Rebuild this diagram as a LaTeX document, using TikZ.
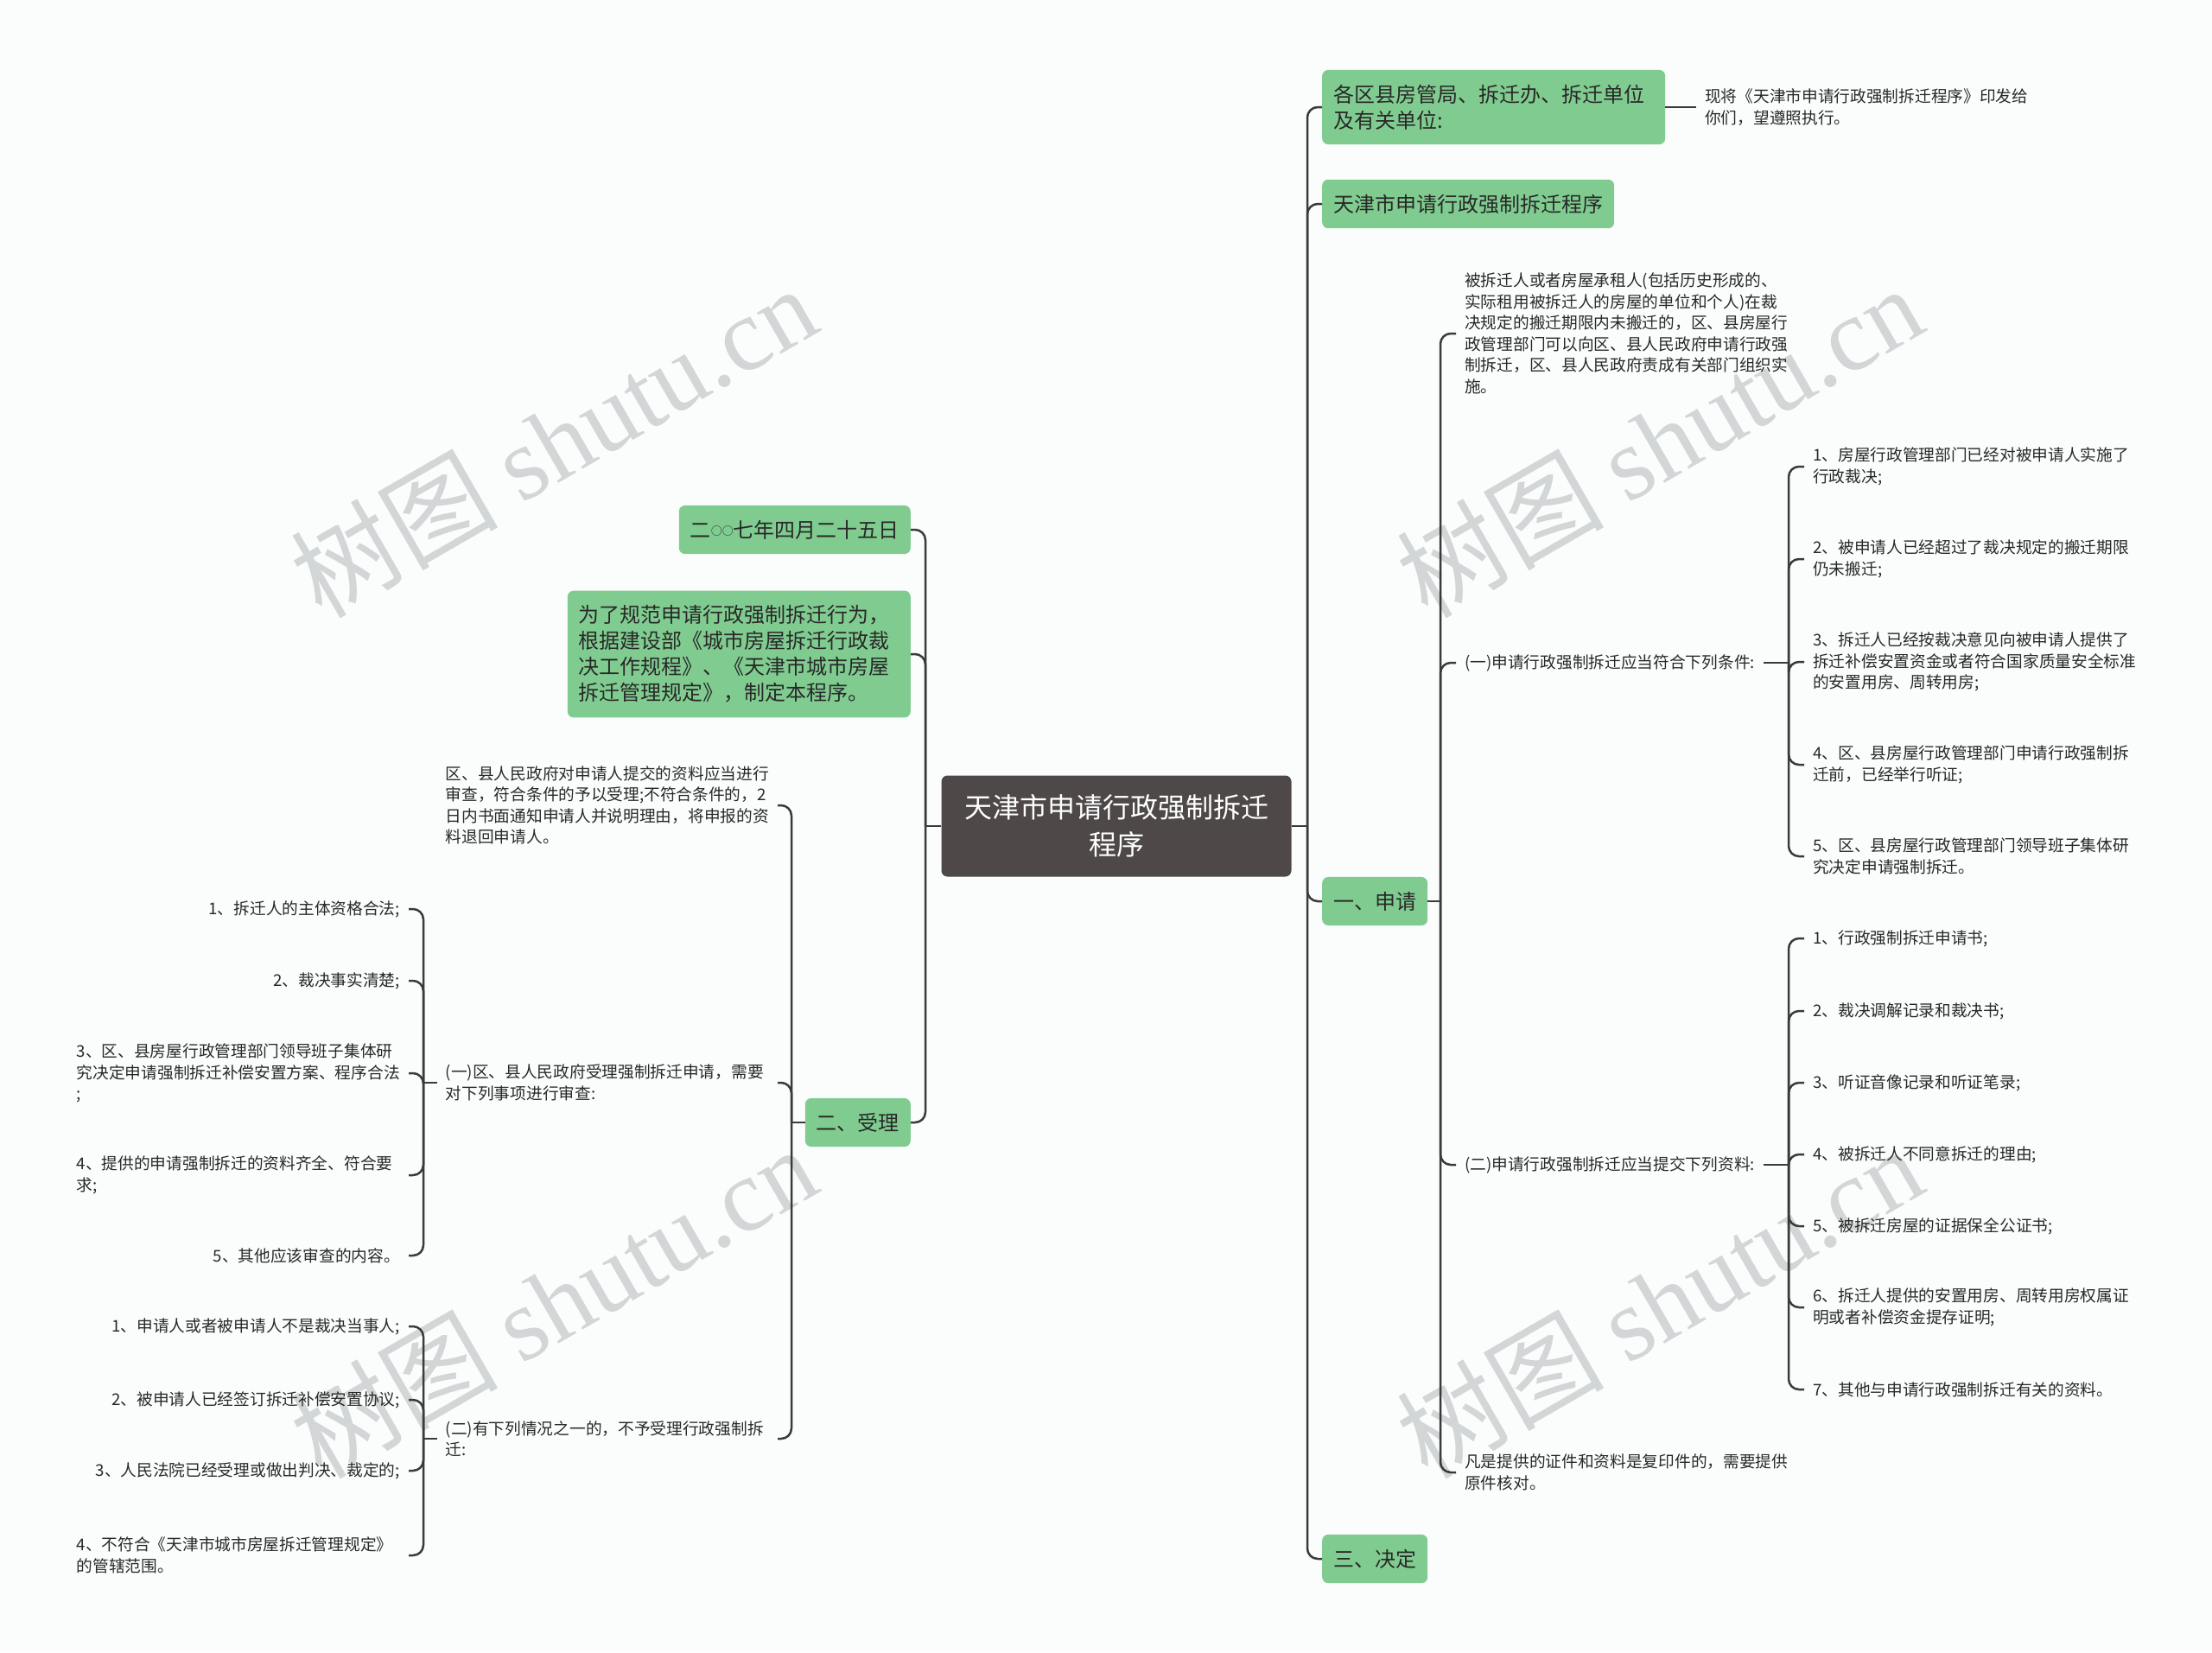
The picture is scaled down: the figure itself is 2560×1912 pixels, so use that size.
\documentclass[tikz,border=0pt]{standalone}
\usepackage{fontspec}
\setmainfont{Noto Sans CJK SC}
\newfontfamily\wmfont{Liberation Serif}

\definecolor{bgcol}{RGB}{251,253,253}
\definecolor{boxgreen}{RGB}{128,204,144}
\definecolor{rootgray}{RGB}{78,72,72}
\definecolor{linecol}{RGB}{58,58,58}
\definecolor{wmgray}{RGB}{210,214,214}
\definecolor{txt}{RGB}{40,40,40}

\tikzset{
  root/.style={fill=rootgray, text=white, rounded corners=7pt, minimum width=405pt,
    minimum height=117pt, align=center, font=\fontsize{32}{43}\selectfont},
  topic/.style={fill=boxgreen, text=txt, rounded corners=7pt, inner xsep=13pt,
    inner ysep=17pt, align=left, font=\fontsize{24}{30}\selectfont},
  widetopic/.style={topic, text width=371pt},
  leaf/.style={text=txt, inner xsep=10pt, inner ysep=3pt, align=left,
    font=\fontsize{18.7}{24.5}\selectfont},
  wideleaf/.style={leaf, text width=374pt},
  conn/.style={draw=linecol, line width=2.5pt, rounded corners=12pt},
  wmark/.style={text=wmgray, rotate=30, font=\fontsize{120}{120}\selectfont},
}

\begin{document}
\begin{tikzpicture}[x=1pt,y=-1pt]
  \fill[bgcol] (0,0) rectangle (2560,1912);
  \useasboundingbox (0,0) rectangle (2560,1912);

  % watermarks
  \node[wmark] (wm1) at (640,510) {树图 {\wmfont shutu.cn}};
  \node[wmark] (wm2) at (1920,510) {树图 {\wmfont shutu.cn}};
  \node[wmark] (wm3) at (640,1506) {树图 {\wmfont shutu.cn}};
  \node[wmark] (wm4) at (1920,1506) {树图 {\wmfont shutu.cn}};

  \node[root] (root) at (1292,956) {天津市申请行政强制拆迁\\程序};

  % right side
  \coordinate (rt) at (1513,956);
  \node[widetopic, anchor=west] (notice) at (1530,124) {各区县房管局、拆迁办、拆迁单位\\及有关单位:};
  \node[leaf, anchor=west] (issue) at (1963,124) {现将《天津市申请行政强制拆迁程序》印发给\\你们，望遵照执行。};
  \node[topic, anchor=west] (title) at (1530,236) {天津市申请行政强制拆迁程序};
  \node[topic, anchor=west] (apply) at (1530,1043) {一、申请};
  \node[topic, anchor=west] (decide) at (1530,1804) {三、决定};

  \coordinate (ap) at (1667,1043);
  \node[leaf, anchor=west] (ap1) at (1685,386) {被拆迁人或者房屋承租人(包括历史形成的、\\实际租用被拆迁人的房屋的单位和个人)在裁\\决规定的搬迁期限内未搬迁的，区、县房屋行\\政管理部门可以向区、县人民政府申请行政强\\制拆迁，区、县人民政府责成有关部门组织实\\施。};
  \node[leaf, anchor=west] (ap2) at (1685,767) {(一)申请行政强制拆迁应当符合下列条件:};
  \node[leaf, anchor=west] (ap3) at (1685,1348) {(二)申请行政强制拆迁应当提交下列资料:};
  \node[leaf, anchor=west] (ap4) at (1685,1704) {凡是提供的证件和资料是复印件的，需要提供\\原件核对。};

  \coordinate (cd) at (2070,767);
  \node[leaf, anchor=west] (cd1) at (2088,540) {1、房屋行政管理部门已经对被申请人实施了\\行政裁决;};
  \node[leaf, anchor=west] (cd2) at (2088,647) {2、被申请人已经超过了裁决规定的搬迁期限\\仍未搬迁;};
  \node[leaf, anchor=west] (cd3) at (2088,766) {3、拆迁人已经按裁决意见向被申请人提供了\\拆迁补偿安置资金或者符合国家质量安全标准\\的安置用房、周转用房;};
  \node[leaf, anchor=west] (cd4) at (2088,885) {4、区、县房屋行政管理部门申请行政强制拆\\迁前，已经举行听证;};
  \node[leaf, anchor=west] (cd5) at (2088,991) {5、区、县房屋行政管理部门领导班子集体研\\究决定申请强制拆迁。};

  \coordinate (mt) at (2070,1348);
  \node[leaf, anchor=west] (mt1) at (2088,1086) {1、行政强制拆迁申请书;};
  \node[leaf, anchor=west] (mt2) at (2088,1170) {2、裁决调解记录和裁决书;};
  \node[leaf, anchor=west] (mt3) at (2088,1253) {3、听证音像记录和听证笔录;};
  \node[leaf, anchor=west] (mt4) at (2088,1336) {4、被拆迁人不同意拆迁的理由;};
  \node[leaf, anchor=west] (mt5) at (2088,1419) {5、被拆迁房屋的证据保全公证书;};
  \node[leaf, anchor=west] (mt6) at (2088,1513) {6、拆迁人提供的安置用房、周转用房权属证\\明或者补偿资金提存证明;};
  \node[leaf, anchor=west] (mt7) at (2088,1608) {7、其他与申请行政强制拆迁有关的资料。};

  % left side
  \coordinate (lt) at (1071,956);
  \node[topic, anchor=east] (date) at (1054,613) {二{\fontsize{13}{13}\selectfont\raisebox{2.5pt}{○○}}七年四月二十五日};
  \node[widetopic, anchor=east] (purpose) at (1054,757) {为了规范申请行政强制拆迁行为，\\根据建设部《城市房屋拆迁行政裁\\决工作规程》、《天津市城市房屋\\拆迁管理规定》，制定本程序。};
  \node[topic, anchor=east] (accept) at (1054,1299) {二、受理};

  \coordinate (ac) at (916,1299);
  \node[wideleaf, anchor=east] (ac1) at (900,932) {区、县人民政府对申请人提交的资料应当进行\\审查，符合条件的予以受理;不符合条件的，2\\日内书面通知申请人并说明理由，将申报的资\\料退回申请人。};
  \node[wideleaf, anchor=east] (ac2) at (900,1253) {(一)区、县人民政府受理强制拆迁申请，需要\\对下列事项进行审查:};
  \node[wideleaf, anchor=east] (ac3) at (900,1665) {(二)有下列情况之一的，不予受理行政强制拆\\迁:};

  \coordinate (ex) at (490,1253);
  \node[leaf, anchor=east] (ex1) at (473,1052) {1、拆迁人的主体资格合法;};
  \node[leaf, anchor=east] (ex2) at (473,1135) {2、裁决事实清楚;};
  \node[wideleaf, anchor=east] (ex3) at (473,1242) {3、区、县房屋行政管理部门领导班子集体研\\究决定申请强制拆迁补偿安置方案、程序合法\\;};
  \node[wideleaf, anchor=east] (ex4) at (473,1360) {4、提供的申请强制拆迁的资料齐全、符合要\\求;};
  \node[leaf, anchor=east] (ex5) at (473,1453) {5、其他应该审查的内容。};

  \coordinate (rj) at (490,1665);
  \node[leaf, anchor=east] (rj1) at (473,1535) {1、申请人或者被申请人不是裁决当事人;};
  \node[leaf, anchor=east] (rj2) at (473,1620) {2、被申请人已经签订拆迁补偿安置协议;};
  \node[leaf, anchor=east] (rj3) at (473,1702) {3、人民法院已经受理或做出判决、裁定的;};
  \node[wideleaf, anchor=east] (rj4) at (473,1800) {4、不符合《天津市城市房屋拆迁管理规定》\\的管辖范围。};

  % connectors
  \draw[conn] (root.east) -- (rt);
  \draw[conn] (rt) |- (notice.west);
  \draw[conn] (rt) |- (title.west);
  \draw[conn] (rt) |- (apply.west);
  \draw[conn] (rt) |- (decide.west);
  \draw[conn] (notice.east) -- (issue.west);

  \draw[conn] (apply.east) -- (ap);
  \draw[conn] (ap) |- (ap1.west);
  \draw[conn] (ap) |- (ap2.west);
  \draw[conn] (ap) |- (ap3.west);
  \draw[conn] (ap) |- (ap4.west);

  \draw[conn] (ap2.east) -- (cd);
  \draw[conn] (cd) |- (cd1.west);
  \draw[conn] (cd) |- (cd2.west);
  \draw[conn] (cd) |- (cd3.west);
  \draw[conn] (cd) |- (cd4.west);
  \draw[conn] (cd) |- (cd5.west);

  \draw[conn] (ap3.east) -- (mt);
  \draw[conn] (mt) |- (mt1.west);
  \draw[conn] (mt) |- (mt2.west);
  \draw[conn] (mt) |- (mt3.west);
  \draw[conn] (mt) |- (mt4.west);
  \draw[conn] (mt) |- (mt5.west);
  \draw[conn] (mt) |- (mt6.west);
  \draw[conn] (mt) |- (mt7.west);

  \draw[conn] (root.west) -- (lt);
  \draw[conn] (lt) |- (date.east);
  \draw[conn] (lt) |- (purpose.east);
  \draw[conn] (lt) |- (accept.east);

  \draw[conn] (accept.west) -- (ac);
  \draw[conn] (ac) |- (ac1.east);
  \draw[conn] (ac) |- (ac2.east);
  \draw[conn] (ac) |- (ac3.east);

  \draw[conn] (ac2.west) -- (ex);
  \draw[conn] (ex) |- (ex1.east);
  \draw[conn] (ex) |- (ex2.east);
  \draw[conn] (ex) |- (ex3.east);
  \draw[conn] (ex) |- (ex4.east);
  \draw[conn] (ex) |- (ex5.east);

  \draw[conn] (ac3.west) -- (rj);
  \draw[conn] (rj) |- (rj1.east);
  \draw[conn] (rj) |- (rj2.east);
  \draw[conn] (rj) |- (rj3.east);
  \draw[conn] (rj) |- (rj4.east);
\end{tikzpicture}
\end{document}
